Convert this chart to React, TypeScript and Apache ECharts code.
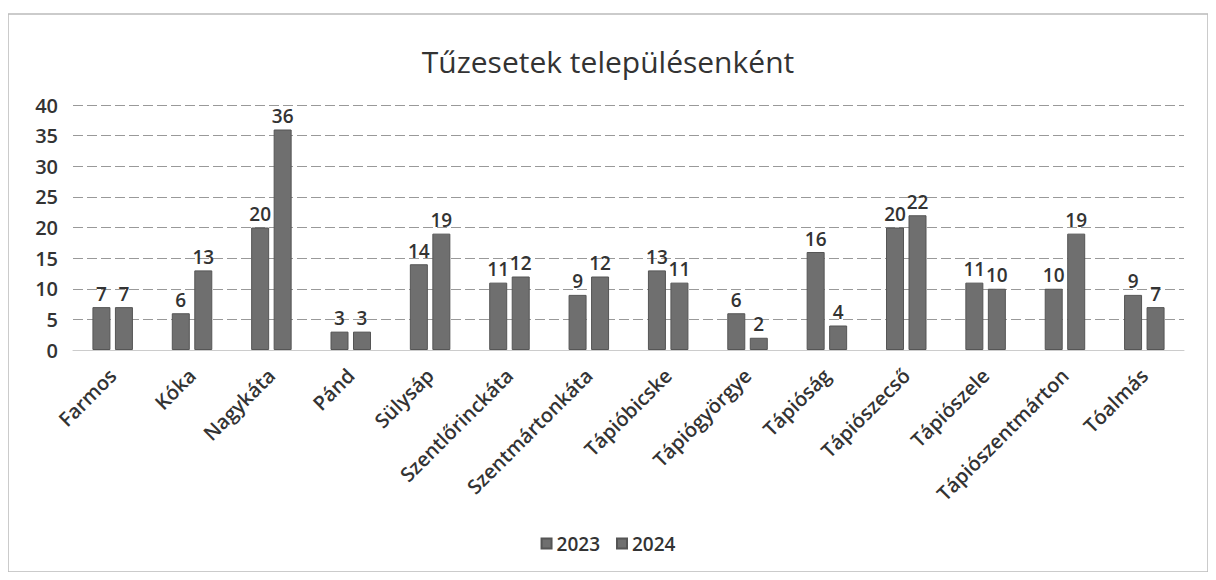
import React, { useEffect, useRef } from "react";
import * as echarts from "echarts";

const categories = [
  "Farmos", "Kóka", "Nagykáta", "Pánd", "Sülysáp", "Szentlőrinckáta", "Szentmártonkáta",
  "Tápióbicske", "Tápiógyörgye", "Tápióság", "Tápiószecső", "Tápiószele", "Tápiószentmárton", "Tóalmás",
];
const values2023 = [7, 6, 20, 3, 14, 11, 9, 13, 6, 16, 20, 11, 10, 9];
const values2024 = [7, 13, 36, 3, 19, 12, 12, 11, 2, 4, 22, 10, 19, 7];
const seriesNames = ["2023", "2024"];
const titleText = "Tűzesetek településenként";

const FONT = "'Open Sans', 'Noto Sans', sans-serif";

export default function App() {
  const ref = useRef<HTMLDivElement>(null);
  useEffect(() => {
    if (!ref.current) return;
    const chart = echarts.init(ref.current, null, { renderer: "svg" });
    const labelStyle = {
      show: true,
      position: "top" as const,
      color: "#333",
      fontSize: 19,
      fontFamily: FONT,
      fontWeight: 600,
      distance: 4,
    };
    chart.setOption({
      animation: false,
      backgroundColor: "#fff",
      textStyle: { fontFamily: FONT },
      title: {
        text: titleText,
        left: "center",
        top: 33,
        textStyle: { fontSize: 30, fontWeight: 500, color: "#333", fontFamily: FONT },
      },
      graphic: [
        {
          type: "rect",
          shape: { x: 0, y: 6, width: 1200, height: 558 },
          style: { fill: "none", stroke: "#bbb", lineWidth: 1.5 },
        },
      ],
      legend: {
        data: seriesNames,
        bottom: 14,
        left: "center",
        itemWidth: 10,
        itemHeight: 10,
        itemGap: 16,
        icon: "rect",
        textStyle: { fontSize: 19, color: "#333", fontFamily: FONT, fontWeight: 600 },
      },
      grid: { left: 65, right: 24, top: 97, bottom: 222 },
      xAxis: {
        type: "category",
        data: categories,
        axisTick: { show: false },
        axisLine: { show: true, lineStyle: { color: "#ccc" } },
        axisLabel: {
          rotate: 45,
          interval: 0,
          fontSize: 20,
          fontWeight: 600,
          color: "#333",
          fontFamily: FONT,
          margin: 22,
        },
      },
      yAxis: {
        type: "value",
        min: 0,
        max: 40,
        interval: 5,
        axisLine: { show: false },
        axisTick: { show: false },
        axisLabel: { fontSize: 20, fontWeight: 600, color: "#333", fontFamily: FONT, margin: 15 },
        splitLine: { lineStyle: { color: "#999", type: [10, 4], width: 1 } },
      },
      series: [
        {
          name: seriesNames[0],
          type: "bar",
          data: values2023,
          barWidth: 18,
          barGap: "25%",
          itemStyle: { color: "#6f6f6f", borderColor: "#555", borderWidth: 1 },
          label: labelStyle,
        },
        {
          name: seriesNames[1],
          type: "bar",
          data: values2024,
          barWidth: 18,
          itemStyle: { color: "#6f6f6f", borderColor: "#555", borderWidth: 1 },
          label: labelStyle,
        },
      ],
    });
    return () => chart.dispose();
  }, []);
  return <div ref={ref} style={{ width: 1200, height: 564 }} />;
}
